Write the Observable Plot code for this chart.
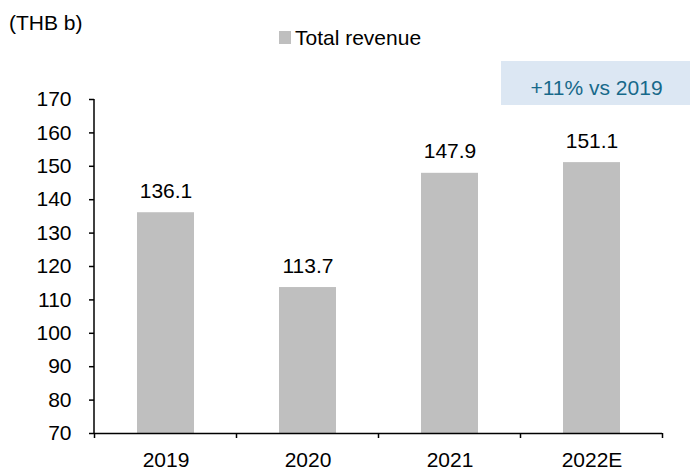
<!DOCTYPE html>
<html>
<head>
<meta charset="utf-8">
<script src="https://cdn.jsdelivr.net/npm/d3@7"></script>
<script src="https://cdn.jsdelivr.net/npm/@observablehq/plot@0.6"></script>
<style>
  html, body { margin: 0; padding: 0; background: #fff; }
  #wrap { position: relative; width: 690px; height: 468px; font-family: Arial, "Liberation Sans", sans-serif; font-size: 21px; color: #000; }
  #wrap svg { position: absolute; left: 0; top: 0; }
  .ov { position: absolute; line-height: 21px; white-space: nowrap; }
  #unit { left: 9px; top: 12px; }
  #legend { left: 279px; top: 27px; }
  #legend .sw { position: absolute; left: 0; top: 4px; width: 12px; height: 13px; background: #bfbfbf; }
  #legend .lb { position: absolute; left: 16px; top: 0; }
  #note { left: 501px; top: 61px; width: 191px; height: 44px; background: #dce7f3; color: #17698a; text-align: center; }
  #note span { position: absolute; left: 0; right: 0; top: 16px; }
</style>
</head>
<body>
<div id="wrap"></div>
<script>
const categories = ["2019", "2020", "2021", "2022E"];
const revenue = [136.1, 113.7, 147.9, 151.1];
const yTicks = [70, 80, 90, 100, 110, 120, 130, 140, 150, 160, 170];
const unitLabel = "(THB b)";
const seriesName = "Total revenue";
const noteText = "+11% vs 2019";

const data = categories.map((c, i) => ({year: c, value: revenue[i]}));

function axisDecor(index, scales, values, dimensions) {
  const {marginLeft} = dimensions;
  const x = scales.x, y = scales.y;
  const g = d3.create("svg:g").attr("stroke", "#000").attr("stroke-width", 1.5).attr("fill", "none");
  const y0 = y(yTicks[0]), yTop = y(yTicks[yTicks.length - 1]);
  g.append("line").attr("x1", marginLeft).attr("x2", marginLeft).attr("y1", yTop).attr("y2", y0);
  const bw = typeof x.bandwidth === "function" ? x.bandwidth() : x.bandwidth;
  const step = typeof x.step === "function" ? x.step() : (x(categories[1]) - x(categories[0]));
  const half = (step - bw) / 2;
  const bounds = categories.map(c => x(c) - half);
  bounds.push(x(categories[categories.length - 1]) + bw + half);
  for (const b of bounds) {
    g.append("line").attr("x1", b).attr("x2", b).attr("y1", y0).attr("y2", y0 + 5);
  }
  return g.node();
}

const chart = Plot.plot({
  width: 690,
  height: 468,
  marginLeft: 94,
  marginRight: 28,
  marginTop: 99,
  marginBottom: 35,
  style: {fontFamily: "Arial, 'Liberation Sans', sans-serif", fontSize: "21px", color: "#000", background: "transparent", overflow: "visible"},
  x: {type: "band", domain: categories, paddingInner: 0.6, paddingOuter: 0.3, label: null},
  y: {domain: [yTicks[0], yTicks[yTicks.length - 1]], label: null},
  marks: [
    Plot.barY(data, {x: "year", y1: yTicks[0], y2: "value", fill: "#bfbfbf"}),
    Plot.text(data, {x: "year", y: "value", text: d => d.value.toFixed(1), lineAnchor: "bottom", dy: -15, fill: "#000", fontSize: 21}),
    Plot.axisY({ticks: yTicks, tickSize: 5, tickPadding: 18, stroke: "#000", strokeWidth: 1.5, fill: "#000", label: null, fontSize: 21}),
    Plot.axisX({tickSize: 0, tickPadding: 19, label: null, fill: "#000", fontSize: 21}),
    Plot.ruleY([yTicks[0]], {stroke: "#000", strokeWidth: 1.5}),
    axisDecor
  ]
});

const wrap = document.getElementById("wrap");
wrap.appendChild(chart);

const unit = document.createElement("div");
unit.className = "ov"; unit.id = "unit"; unit.textContent = unitLabel;
wrap.appendChild(unit);

const legend = document.createElement("div");
legend.className = "ov"; legend.id = "legend";
legend.innerHTML = '<div class="sw"></div><div class="lb"></div>';
legend.querySelector(".lb").textContent = seriesName;
wrap.appendChild(legend);

const note = document.createElement("div");
note.className = "ov"; note.id = "note";
const ns = document.createElement("span"); ns.textContent = noteText;
note.appendChild(ns);
wrap.appendChild(note);
</script>
</body>
</html>
